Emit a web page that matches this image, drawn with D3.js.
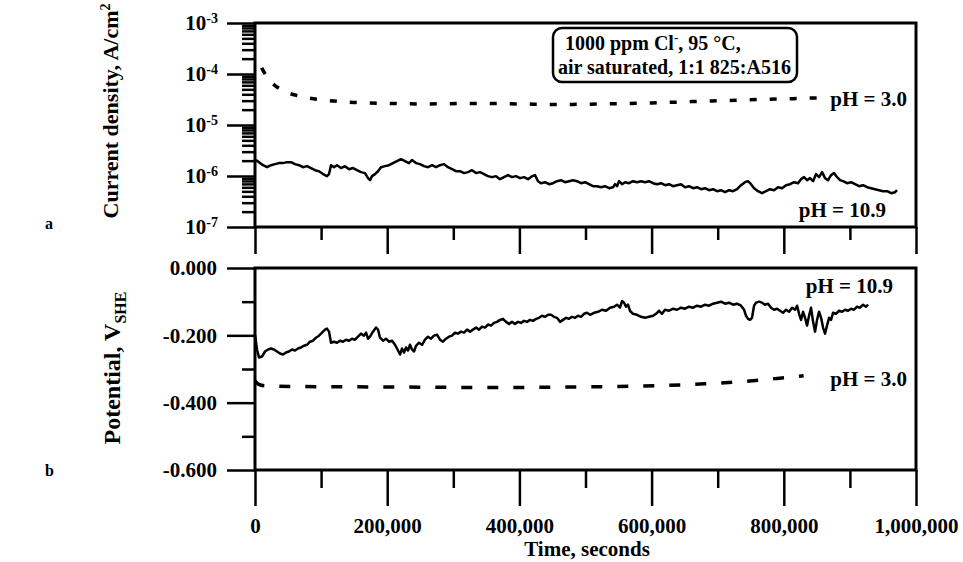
<!DOCTYPE html>
<html>
<head>
<meta charset="utf-8">
<title>Current density and potential vs time</title>
<script src="https://d3js.org/d3.v7.min.js"></script>
<style>
  body { margin: 0; background: #fff; }
  text { font-family: "Liberation Serif", "Times New Roman", serif; font-weight: bold; fill: #000; }
</style>
</head>
<body>
<div id="chart"></div>
<script>
// ---- data ----
// panel a, pH 10.9 : time (s) / current density (A/cm2)
var tCur109 = [1500,6000,12100,18200,24200,30300,36300,42400,48400,54500,
  60500,66600,72600,78700,84700,90800,96800,102900,108900,112000,
  115000,119500,124100,130100,136200,142200,148300,154300,160400,166400,
  171000,174000,177000,181600,186100,190600,196700,202700,208800,214800,
  220900,226900,233000,237500,243600,249600,255700,261700,267800,273900,
  279900,286000,292000,298100,304100,310200,316200,322300,328300,334400,
  340400,346500,352500,358600,364600,370700,376700,382800,388800,394900,
  400900,407000,413000,419100,423600,428200,432700,438800,444800,450900,
  456900,463000,469000,475100,481100,487200,493200,499300,505300,511400,
  517400,523500,529600,535600,541700,544700,547700,550700,555300,559800,
  565900,571900,578000,584000,590100,596100,602200,608200,614300,620300,
  626400,632400,638500,644500,650600,656600,662700,668700,674800,680900,
  686900,693000,699000,705100,711100,717200,723200,729300,735300,741400,
  745900,750400,755000,761000,767100,773100,779200,785200,791300,797400,
  803400,809500,815500,821600,826100,830600,835200,839700,844300,848800,
  853300,857900,862400,867000,871500,876000,880600,885100,889600,895700,
  901700,907800,913900,919900,926000,932000,938100,944100,950200,956200,
  962300,968300,971300];
var iCur109 = [2.05e-6,1.87e-6,1.63e-6,1.49e-6,1.63e-6,1.71e-6,1.79e-6,1.79e-6,1.87e-6,1.87e-6,
  1.71e-6,1.63e-6,1.49e-6,1.56e-6,1.43e-6,1.30e-6,1.24e-6,1.09e-6,9.93e-7,1.09e-6,
  1.63e-6,1.49e-6,1.63e-6,1.43e-6,1.56e-6,1.36e-6,1.43e-6,1.30e-6,1.19e-6,1.14e-6,
  9.08e-7,8.28e-7,9.93e-7,1.09e-6,1.24e-6,1.49e-6,1.56e-6,1.63e-6,1.79e-6,1.96e-6,
  2.14e-6,1.96e-6,1.79e-6,2.05e-6,1.79e-6,1.71e-6,1.56e-6,1.49e-6,1.63e-6,1.49e-6,
  1.63e-6,1.71e-6,1.49e-6,1.36e-6,1.24e-6,1.24e-6,1.14e-6,1.19e-6,1.30e-6,1.14e-6,
  1.19e-6,1.09e-6,9.93e-7,9.49e-7,9.93e-7,8.67e-7,9.49e-7,1.04e-6,9.49e-7,9.93e-7,
  9.08e-7,9.49e-7,8.67e-7,9.93e-7,1.04e-6,7.92e-7,7.23e-7,7.57e-7,6.91e-7,7.23e-7,
  7.92e-7,8.28e-7,7.57e-7,7.92e-7,8.28e-7,7.92e-7,7.23e-7,7.57e-7,6.91e-7,6.31e-7,
  6.31e-7,6.03e-7,6.31e-7,5.77e-7,6.03e-7,6.91e-7,6.31e-7,7.92e-7,6.91e-7,7.57e-7,
  7.23e-7,7.92e-7,7.57e-7,7.92e-7,7.57e-7,7.92e-7,7.23e-7,6.91e-7,7.23e-7,6.61e-7,
  6.91e-7,6.31e-7,6.61e-7,6.91e-7,6.03e-7,6.31e-7,5.77e-7,6.03e-7,5.51e-7,5.77e-7,
  5.27e-7,5.51e-7,5.03e-7,5.27e-7,4.81e-7,5.27e-7,5.03e-7,5.51e-7,6.61e-7,7.57e-7,
  7.92e-7,6.91e-7,5.77e-7,5.03e-7,4.60e-7,5.03e-7,5.51e-7,5.27e-7,6.03e-7,5.77e-7,
  6.61e-7,6.91e-7,7.57e-7,7.23e-7,8.67e-7,9.49e-7,8.28e-7,9.08e-7,7.92e-7,1.09e-6,
  9.49e-7,1.19e-6,9.08e-7,8.28e-7,1.04e-6,1.14e-6,9.49e-7,8.28e-7,7.92e-7,7.23e-7,
  7.57e-7,6.91e-7,6.31e-7,6.61e-7,6.03e-7,5.77e-7,5.51e-7,5.27e-7,5.03e-7,5.03e-7,
  4.60e-7,4.81e-7,5.27e-7];

// panel a, pH 3.0
var tCur30 = [10000,18000,40000,60000,80000,110000,150000,200000,260000,330000,
  400000,460000,530000,600000,670000,740000,800000,850000];
var iCur30 = [1.32e-4,8.8e-5,4.88e-5,3.89e-5,3.40e-5,3.03e-5,2.77e-5,2.65e-5,2.59e-5,2.65e-5,
  2.59e-5,2.53e-5,2.59e-5,2.71e-5,2.90e-5,3.10e-5,3.25e-5,3.40e-5];

// panel b, pH 10.9 : time (s) / potential (V SHE)
var tPot109 = [0,3000,6100,10600,15100,19700,24200,28700,33300,37800,
  42400,46900,51400,56000,60500,65100,69600,74100,78700,83200,
  87800,92300,96800,101400,105900,108900,112000,115000,119500,124100,
  128600,133100,137700,142200,146800,151300,155800,160400,164900,168000,
  171000,174000,178500,183100,186100,189100,193700,198200,202700,207300,
  211800,216400,219400,222400,225400,228500,231500,234500,237500,240600,
  243600,248100,252700,257200,261700,266300,270800,275300,279900,284400,
  289000,293500,298100,302600,307100,311700,316200,320800,325300,329800,
  334400,338900,343500,348000,352500,357100,361600,366100,370700,375200,
  379800,384300,388800,393400,397900,402500,407000,411500,416100,420600,
  425200,429700,434200,438800,443300,447800,452400,456900,461500,466000,
  470500,475100,479600,484200,488700,493200,497800,502300,506900,512900,
  519000,525000,531100,537100,543200,547700,552200,555300,558300,561300,
  564300,567300,571900,578000,584000,590100,596100,602200,606700,611300,
  615800,620300,626400,632400,638500,644500,650600,656600,662700,668700,
  674800,680900,686900,693000,699000,705100,711100,717200,723200,729300,
  735300,739900,742900,745900,748900,751900,755000,758000,762600,767100,
  771600,776200,780700,785200,789800,794300,798900,803400,808000,812500,
  817000,820100,823100,826100,829200,832200,835200,838200,841200,844300,
  847300,850300,853300,856400,859400,862400,865400,868500,871500,874500,
  879000,883600,888100,892700,897200,901700,906300,910800,915400,919900,
  924400,927500];
var ePot109 = [-0.198,-0.242,-0.266,-0.263,-0.248,-0.242,-0.239,-0.242,-0.248,-0.254,
  -0.257,-0.251,-0.248,-0.242,-0.245,-0.239,-0.236,-0.231,-0.228,-0.219,
  -0.216,-0.207,-0.201,-0.192,-0.183,-0.180,-0.189,-0.222,-0.219,-0.222,
  -0.216,-0.219,-0.213,-0.216,-0.210,-0.213,-0.204,-0.195,-0.201,-0.192,
  -0.210,-0.204,-0.189,-0.177,-0.183,-0.207,-0.216,-0.210,-0.219,-0.216,
  -0.228,-0.245,-0.257,-0.239,-0.251,-0.236,-0.245,-0.228,-0.242,-0.248,
  -0.231,-0.222,-0.228,-0.213,-0.204,-0.210,-0.201,-0.198,-0.213,-0.219,
  -0.210,-0.204,-0.201,-0.192,-0.195,-0.189,-0.192,-0.183,-0.189,-0.183,
  -0.177,-0.183,-0.174,-0.177,-0.168,-0.171,-0.163,-0.160,-0.154,-0.151,
  -0.160,-0.166,-0.160,-0.166,-0.160,-0.163,-0.157,-0.160,-0.154,-0.157,
  -0.151,-0.148,-0.142,-0.145,-0.139,-0.139,-0.145,-0.148,-0.160,-0.154,
  -0.148,-0.151,-0.145,-0.148,-0.142,-0.145,-0.136,-0.133,-0.139,-0.133,
  -0.130,-0.124,-0.127,-0.118,-0.115,-0.109,-0.118,-0.098,-0.103,-0.115,
  -0.109,-0.127,-0.136,-0.139,-0.145,-0.148,-0.145,-0.142,-0.136,-0.127,
  -0.136,-0.124,-0.127,-0.121,-0.124,-0.118,-0.121,-0.115,-0.118,-0.112,
  -0.115,-0.109,-0.112,-0.106,-0.103,-0.100,-0.106,-0.103,-0.109,-0.106,
  -0.112,-0.124,-0.142,-0.151,-0.154,-0.148,-0.112,-0.103,-0.100,-0.103,
  -0.109,-0.106,-0.118,-0.124,-0.121,-0.127,-0.133,-0.124,-0.130,-0.118,
  -0.124,-0.112,-0.136,-0.154,-0.130,-0.148,-0.171,-0.142,-0.118,-0.160,
  -0.189,-0.154,-0.130,-0.148,-0.177,-0.195,-0.171,-0.148,-0.154,-0.133,
  -0.136,-0.127,-0.130,-0.124,-0.127,-0.121,-0.124,-0.115,-0.118,-0.109,
  -0.115,-0.109];

// panel b, pH 3.0
var tPot30 = [0,5000,15000,60000,150000,250000,350000,450000,550000,620000,680000,740000,790000,830000];
var ePot30 = [-0.335,-0.345,-0.350,-0.352,-0.353,-0.354,-0.355,-0.354,-0.352,-0.349,-0.344,-0.337,-0.328,-0.320];

// axis ticks
var timeMajor = [0, 200000, 400000, 600000, 800000, 1000000];
var timeMinor = [100000, 300000, 500000, 700000, 900000];
var curMajor = [1e-3, 1e-4, 1e-5, 1e-6, 1e-7];
var potMajor = [0, -0.2, -0.4, -0.6];
var potMinor = [-0.1, -0.3, -0.5];

// ---- layout ----
var width = 963, height = 562;
var FONT = "'Liberation Serif', 'Times New Roman', serif";

var x = d3.scaleLinear().domain([0, 1e6]).range([255, 916]);
var yCur = d3.scaleLog().domain([1e-7, 1e-3]).range([227, 23]);
var yPot = d3.scaleLinear().domain([-0.6, 0]).range([470, 268]);

// minor log ticks 2..9 in every decade
var curMinor = [];
for (var e = -7; e < -3; e++) {
  for (var m = 2; m < 10; m++) curMinor.push(m * Math.pow(10, e));
}

var svg = d3.select("#chart").append("svg")
  .attr("width", width)
  .attr("height", height);

// common look for every axis group
function tidy(g) {
  g.select(".domain").remove();
  g.attr("font-family", FONT).attr("font-size", 21).attr("font-weight", "bold");
  g.selectAll("line").attr("stroke", "#000").attr("stroke-width", 2.5);
  g.selectAll("text").attr("fill", "#000");
}

// ---- panel a axes ----
svg.append("g").attr("transform", "translate(255,0)")
  .call(d3.axisLeft(yCur).tickValues(curMinor).tickSize(13).tickFormat(""))
  .call(tidy);
var gCur = svg.append("g").attr("transform", "translate(255,0)")
  .call(d3.axisLeft(yCur).tickValues(curMajor).tickSize(28).tickPadding(9))
  .call(tidy);
gCur.selectAll(".tick text").each(function(d) {
  var t = d3.select(this);
  t.text("10");
  t.append("tspan").attr("dy", "-0.55em").attr("font-size", 14)
    .text(Math.round(Math.log10(d)));
});

svg.append("g").attr("transform", "translate(0,227)")
  .call(d3.axisBottom(x).tickValues(timeMinor).tickSize(13).tickFormat(""))
  .call(tidy);
svg.append("g").attr("transform", "translate(0,227)")
  .call(d3.axisBottom(x).tickValues(timeMajor).tickSize(27).tickFormat(""))
  .call(tidy);

// ---- panel b axes ----
svg.append("g").attr("transform", "translate(255,0)")
  .call(d3.axisLeft(yPot).tickValues(potMinor).tickSize(13).tickFormat(""))
  .call(tidy);
svg.append("g").attr("transform", "translate(255,0)")
  .call(d3.axisLeft(yPot).tickValues(potMajor).tickSize(28).tickPadding(10)
    .tickFormat(function(d) { return d.toFixed(3); }))
  .call(tidy);

svg.append("g").attr("transform", "translate(0,470)")
  .call(d3.axisBottom(x).tickValues(timeMinor).tickSize(18).tickFormat(""))
  .call(tidy);
svg.append("g").attr("transform", "translate(0,470)")
  .call(d3.axisBottom(x).tickValues(timeMajor).tickSize(36).tickPadding(12)
    .tickFormat(d3.format(",")))
  .call(tidy);

// frames
[yCur.range(), yPot.range()].forEach(function(r) {
  svg.append("rect")
    .attr("x", x.range()[0]).attr("y", r[1])
    .attr("width", x.range()[1] - x.range()[0]).attr("height", r[0] - r[1])
    .attr("fill", "none").attr("stroke", "#000").attr("stroke-width", 3);
});

// ---- curves ----
var lineCur = d3.line().x(function(d) { return x(d[0]); }).y(function(d) { return yCur(d[1]); });
var linePot = d3.line().x(function(d) { return x(d[0]); }).y(function(d) { return yPot(d[1]); });

svg.append("path").datum(d3.zip(tCur109, iCur109)).attr("d", lineCur)
  .attr("fill", "none").attr("stroke", "#000").attr("stroke-width", 2.5).attr("stroke-linejoin", "round");
svg.append("path").datum(d3.zip(tCur30, iCur30)).attr("d", lineCur.curve(d3.curveMonotoneX))
  .attr("fill", "none").attr("stroke", "#000").attr("stroke-width", 3.5).attr("stroke-dasharray", "7,13");

svg.append("path").datum(d3.zip(tPot109, ePot109)).attr("d", linePot)
  .attr("fill", "none").attr("stroke", "#000").attr("stroke-width", 2.5).attr("stroke-linejoin", "round");
svg.append("path").datum(d3.zip(tPot30, ePot30)).attr("d", linePot.curve(d3.curveMonotoneX))
  .attr("fill", "none").attr("stroke", "#000").attr("stroke-width", 3.5).attr("stroke-dasharray", "11,15");

// ---- curve labels ----
svg.append("text").attr("x", 907).attr("y", 106).attr("text-anchor", "end").attr("font-size", 21).text("pH = 3.0");
svg.append("text").attr("x", 886).attr("y", 217).attr("text-anchor", "end").attr("font-size", 21).text("pH = 10.9");
svg.append("text").attr("x", 893).attr("y", 293).attr("text-anchor", "end").attr("font-size", 21).text("pH = 10.9");
svg.append("text").attr("x", 907).attr("y", 386).attr("text-anchor", "end").attr("font-size", 21).text("pH = 3.0");

// ---- condition box ----
svg.append("rect").attr("x", 553).attr("y", 28).attr("width", 244).attr("height", 54).attr("rx", 9)
  .attr("fill", "#fff").attr("stroke", "#000").attr("stroke-width", 2.5);
var l1 = svg.append("text").attr("x", 565).attr("y", 50).attr("font-size", 20).text("1000 ppm Cl");
l1.append("tspan").attr("dy", -8).attr("font-size", 13).text("-");
l1.append("tspan").attr("dy", 8).text(",  95 \u00B0C,");
svg.append("text").attr("x", 558).attr("y", 74).attr("font-size", 20).text("air saturated, 1:1 825:A516");

// ---- axis titles ----
var t1 = svg.append("text").attr("transform", "translate(118,111) rotate(-90)")
  .attr("text-anchor", "middle").attr("font-size", 22).text("Current density, A/cm");
t1.append("tspan").attr("dy", -8).attr("font-size", 14).text("2");

var t2 = svg.append("text").attr("transform", "translate(120,368) rotate(-90)")
  .attr("text-anchor", "middle").attr("font-size", 24).text("Potential, V");
t2.append("tspan").attr("dy", 6).attr("font-size", 16).text("SHE");

svg.append("text").attr("x", 587).attr("y", 556).attr("text-anchor", "middle").attr("font-size", 21).text("Time, seconds");

// panel letters
svg.append("text").attr("x", 45).attr("y", 229).attr("font-size", 16).text("a");
svg.append("text").attr("x", 45).attr("y", 476).attr("font-size", 16).text("b");
</script>
</body>
</html>
